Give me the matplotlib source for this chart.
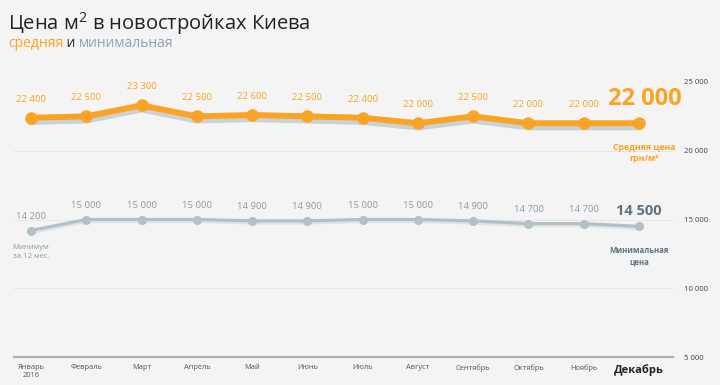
import numpy as np
import matplotlib.pyplot as plt
import matplotlib.transforms as mtransforms

plt.rcParams['font.family'] = ['Open Sans', 'DejaVu Sans']
plt.rcParams['mathtext.fontset'] = 'custom'
plt.rcParams['mathtext.rm'] = 'Open Sans'

months = ['Январь\n2016', 'Февраль', 'Март', 'Апрель', 'Май', 'Июнь', 'Июль',
          'Август', 'Сентябрь', 'Октябрь', 'Ноябрь', 'Декабрь']
avg_price = [22400, 22500, 23300, 22500, 22600, 22500, 22400, 22000, 22500, 22000, 22000, 22000]
min_price = [14200, 15000, 15000, 15000, 14900, 14900, 15000, 15000, 14900, 14700, 14700, 14500]
yticks = [5000, 10000, 15000, 20000, 25000]

bg = '#f4f4f4'
orange = '#fba325'
grey = '#b3c0c6'
grey_txt = '#8c9ba3'
dark_blue = '#5e7482'

fig = plt.figure(figsize=(7.2, 3.85), dpi=100, facecolor=bg)
W, H = 720, 385
left, right, bottom, top = 14, 673, 357, 60
ax = fig.add_axes([left / W, 1 - bottom / H, (right - left) / W, (bottom - top) / H])
ax.set_facecolor(bg)

x = np.arange(len(months))
step = (639 - 31) / 11
ax.set_xlim(-(31 - left) / step, 11 + (right - 639) / step)
ax.set_ylim(5000, 25000 + (82 - top) / 68.75 * 5000)

for s in ['top', 'left', 'right']:
    ax.spines[s].set_visible(False)
ax.spines['bottom'].set_color('#b0b0b0')
ax.spines['bottom'].set_linewidth(1.6)

for v in [10000, 15000, 20000]:
    ax.axhline(v, color='#e6e6e6', lw=0.8, zorder=0)

# shadows under the lines (no markers)
sh1 = mtransforms.offset_copy(ax.transData, fig=fig, x=0, y=-3, units='points')
ax.plot(x, avg_price, color='#c8d2d7', lw=4.3, transform=sh1, zorder=2)
sh2 = mtransforms.offset_copy(ax.transData, fig=fig, x=0, y=-1.5, units='points')
ax.plot(x, min_price, color='#dfe4e7', lw=2.3, transform=sh2, zorder=2)

ax.plot(x, avg_price, color=orange, lw=4.3, marker='o', ms=8, zorder=4)
ax.plot(x, min_price, color=grey, lw=2.3, marker='o', ms=5.5, zorder=3)

for i in range(11):
    ax.annotate(f'{avg_price[i]:,}'.replace(',', ' '), (x[i], avg_price[i]),
                xytext=(0, 10), textcoords='offset points', ha='center', va='bottom',
                color=orange, fontsize=6.8)
    ax.annotate(f'{min_price[i]:,}'.replace(',', ' '), (x[i], min_price[i]),
                xytext=(0, 7), textcoords='offset points', ha='center', va='bottom',
                color=grey_txt, fontsize=6.8)

ax.annotate('22 000', (11, avg_price[-1]), xytext=(4, 9), textcoords='offset points',
            ha='center', va='bottom', color=orange, fontsize=17, fontweight='bold')
ax.annotate('Средняя цена\nгрн/м²', (11, avg_price[-1]), xytext=(4, -14),
            textcoords='offset points', ha='center', va='top', color=orange,
            fontsize=6.3, fontweight='bold', linespacing=1.3)
ax.annotate('14 500', (11, min_price[-1]), xytext=(0, 6), textcoords='offset points',
            ha='center', va='bottom', color=dark_blue, fontsize=10.5, fontweight='bold')
ax.annotate('Минимальная\nцена', (11, min_price[-1]), xytext=(0, -14),
            textcoords='offset points', ha='center', va='top', color=dark_blue,
            fontsize=5.6, fontweight='bold', linespacing=1.4)
ax.annotate('Минимум\nза 12 мес.', (0, min_price[0]), xytext=(0, -10),
            textcoords='offset points', ha='center', va='top', color=grey_txt,
            fontsize=5.6, linespacing=1.4)

ax.set_xticks(x)
ax.set_xticklabels(months, fontsize=5.4, color='#555555', linespacing=1.3)
lbls = ax.get_xticklabels()
lbls[-1].set_fontsize(8)
lbls[-1].set_fontweight('bold')
lbls[-1].set_color('#222222')
ax.tick_params(axis='x', length=0, pad=5)

ax.yaxis.tick_right()
ax.set_yticks(yticks)
ax.set_yticklabels([f'{v:,}'.replace(',', ' ') for v in yticks], fontsize=5.6, color='#444444')
ax.tick_params(axis='y', length=0, pad=8)

fig.text(8 / W, 1 - 30 / H, 'Цена м$^2$ в новостройках Киева', fontsize=14.5,
         color='#222222', va='baseline')
s1 = fig.text(8 / W, 1 - 47 / H, 'средняя', fontsize=10, color=orange, va='baseline')
s2 = ax.annotate(' и ', xy=(1, 0), xycoords=s1, va='bottom', fontsize=10, color='#222222')
ax.annotate('минимальная', xy=(1, 0), xycoords=s2, va='bottom', fontsize=10, color='#8fa4b0')

fig.savefig('out.png', dpi=100, facecolor=bg)
